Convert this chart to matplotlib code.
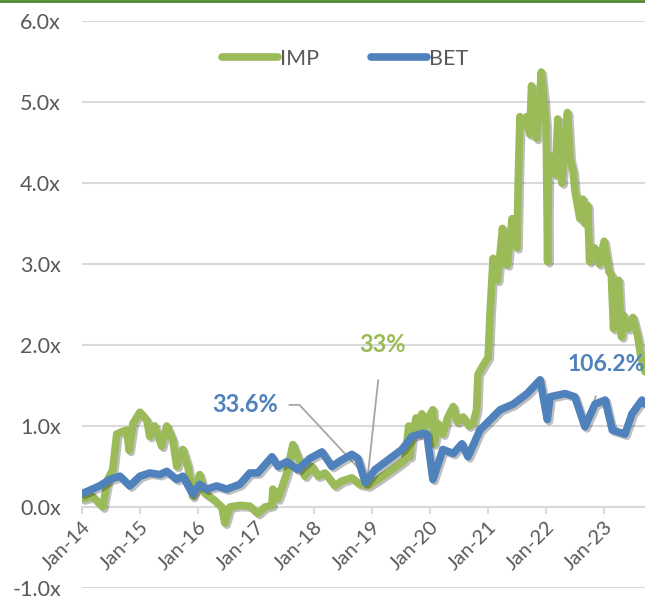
import numpy as np
import matplotlib
matplotlib.use("Agg")
import matplotlib.pyplot as plt
import matplotlib.dates as mdates
import matplotlib.patheffects as pe
from matplotlib.lines import Line2D

plt.rcParams['font.family'] = ['Lato', 'DejaVu Sans']

# IMP series (multiple, x)
imp_dates = ["2014-01-07", "2014-03-10", "2014-05-12", "2014-06-13", "2014-07-14", "2014-08-08",
             "2014-09-10", "2014-10-11", "2014-10-25", "2014-11-18", "2015-01-01", "2015-02-14",
             "2015-03-04", "2015-04-04", "2015-05-18", "2015-06-19", "2015-07-27", "2015-08-21",
             "2015-09-28", "2015-10-30", "2015-11-29", "2016-01-12", "2016-02-13", "2016-04-04",
             "2016-05-30", "2016-06-19", "2016-07-20", "2016-09-21", "2016-11-23", "2017-01-12",
             "2017-02-26", "2017-04-11", "2017-04-17", "2017-05-19", "2017-07-14", "2017-08-21",
             "2017-09-21", "2017-11-04", "2017-12-19", "2018-01-26", "2018-03-11", "2018-05-12",
             "2018-06-24", "2018-08-27", "2018-10-16", "2018-12-06", "2019-02-07", "2019-05-06",
             "2019-07-27", "2019-08-20", "2019-08-27", "2019-09-09", "2019-10-05", "2019-10-20",
             "2019-11-10", "2019-11-22", "2019-12-20", "2020-01-19", "2020-01-27", "2020-02-20",
             "2020-03-22", "2020-04-20", "2020-05-26", "2020-06-20", "2020-07-28", "2020-09-01",
             "2020-09-28", "2020-10-20", "2020-10-29", "2020-12-01", "2021-01-01", "2021-01-13",
             "2021-02-01", "2021-03-01", "2021-04-01", "2021-04-20", "2021-05-01", "2021-06-01",
             "2021-06-15", "2021-07-01", "2021-07-10", "2021-07-20", "2021-08-01", "2021-09-01",
             "2021-09-20", "2021-10-01", "2021-10-20", "2021-11-01", "2021-11-20", "2021-12-01",
             "2021-12-20", "2022-01-01", "2022-01-10", "2022-01-15", "2022-02-01", "2022-03-01",
             "2022-03-15", "2022-04-01", "2022-04-10", "2022-05-01", "2022-05-15", "2022-06-01",
             "2022-06-20", "2022-07-01", "2022-08-01", "2022-08-20", "2022-09-01", "2022-09-20",
             "2022-10-01", "2022-11-01", "2022-12-01", "2023-01-01", "2023-02-01", "2023-02-15",
             "2023-03-01", "2023-04-01", "2023-04-20", "2023-05-01", "2023-06-01", "2023-07-01",
             "2023-08-01", "2023-08-20", "2023-09-15"]
imp_values = [0.10, 0.13, 0.00, 0.34, 0.46, 0.90,
              0.93, 0.95, 0.70, 1.03, 1.17, 1.07,
              0.87, 1.00, 0.75, 1.00, 0.83, 0.50,
              0.71, 0.50, 0.13, 0.40, 0.17, 0.10,
              0.00, -0.20, 0.00, 0.02, 0.01, -0.08,
              0.00, 0.02, 0.22, 0.10, 0.42, 0.77,
              0.62, 0.38, 0.50, 0.38, 0.42, 0.26,
              0.32, 0.36, 0.28, 0.26, 0.34, 0.46,
              0.58, 1.00, 0.62, 0.85, 1.10, 0.90,
              1.15, 0.95, 1.10, 1.20, 0.78, 1.03,
              0.90, 1.10, 1.24, 1.05, 1.11, 1.00,
              1.03, 1.20, 1.64, 1.75, 1.85, 2.40,
              3.07, 2.80, 3.44, 3.00, 2.99, 3.56,
              3.30, 3.20, 4.10, 4.82, 4.70, 4.82,
              4.60, 5.20, 4.90, 4.55, 5.00, 5.37,
              5.00, 4.70, 3.03, 4.20, 4.33, 4.10,
              4.79, 4.30, 4.00, 4.50, 4.87, 4.30,
              4.14, 3.90, 3.56, 3.80, 3.50, 3.72,
              3.03, 3.20, 3.00, 3.28, 2.90, 2.87,
              2.20, 2.80, 2.10, 2.37, 2.20, 2.34,
              2.10, 1.85, 1.67]

# BET series (multiple, x)
bet_dates = ["2014-01-07", "2014-04-22", "2014-06-26", "2014-08-28", "2014-10-30", "2015-01-01",
             "2015-03-04", "2015-05-06", "2015-06-19", "2015-08-21", "2015-09-28", "2015-11-29",
             "2016-01-12", "2016-02-26", "2016-04-29", "2016-07-01", "2016-09-21", "2016-11-23",
             "2017-01-12", "2017-04-11", "2017-05-19", "2017-07-14", "2017-09-21", "2017-12-06",
             "2018-02-20", "2018-04-23", "2018-06-24", "2018-08-27", "2018-10-04", "2018-11-20",
             "2019-01-19", "2019-04-11", "2019-07-08", "2019-09-09", "2019-11-16", "2019-12-12",
             "2020-01-19", "2020-03-22", "2020-05-26", "2020-07-20", "2020-08-27", "2020-11-10",
             "2021-03-17", "2021-06-08", "2021-09-03", "2021-11-24", "2022-01-08", "2022-01-26",
             "2022-04-30", "2022-07-01", "2022-09-02", "2022-11-04", "2023-01-08", "2023-02-21",
             "2023-05-12", "2023-06-25", "2023-08-27", "2023-09-15"]
bet_values = [0.17, 0.26, 0.34, 0.38, 0.26, 0.38,
              0.42, 0.40, 0.44, 0.34, 0.38, 0.16,
              0.28, 0.22, 0.26, 0.22, 0.28, 0.42,
              0.42, 0.62, 0.50, 0.56, 0.46, 0.60,
              0.68, 0.50, 0.58, 0.65, 0.60, 0.30,
              0.46, 0.58, 0.71, 0.87, 0.91, 0.90,
              0.34, 0.71, 0.66, 0.78, 0.62, 0.95,
              1.20, 1.27, 1.40, 1.57, 1.08, 1.36,
              1.40, 1.36, 0.99, 1.27, 1.32, 0.95,
              0.90, 1.15, 1.32, 1.27]

y_ticks = [-1, 0, 1, 2, 3, 4, 5, 6]

green = "#9BBB59"
blue = "#4F81BD"
grey_txt = "#595959"

imp_x = np.array(imp_dates, dtype="datetime64[D]")
bet_x = np.array(bet_dates, dtype="datetime64[D]")

fig = plt.figure(figsize=(6.45, 6.0), dpi=100)
ax = fig.add_axes([0.127, 0.02, 0.873, 0.945])

shadow = [pe.SimpleLineShadow(offset=(1.5, -1.5), alpha=0.25, shadow_color="black"), pe.Normal()]
ax.plot(imp_x, imp_values, color=green, lw=5.5, solid_capstyle="round",
        solid_joinstyle="round", path_effects=shadow, zorder=3)
ax.plot(bet_x, bet_values, color=blue, lw=5.5, solid_capstyle="round",
        solid_joinstyle="round", path_effects=shadow, zorder=4)

ax.set_ylim(-1, 6)
ax.set_xlim(np.datetime64("2014-01-01"), np.datetime64("2023-09-15"))
ax.set_yticks(y_ticks)
ax.set_yticklabels([f"{v:.1f}x" for v in y_ticks])
ax.yaxis.grid(True, color="#D9D9D9", lw=1.5)
ax.set_axisbelow(True)

ax.xaxis.set_major_locator(mdates.YearLocator())
ax.xaxis.set_major_formatter(mdates.DateFormatter("%b-%y"))
ax.spines["bottom"].set_position(("data", 0))
ax.spines["bottom"].set_color("#D9D9D9")
ax.spines["bottom"].set_linewidth(1.5)
for s in ["left", "right", "top"]:
    ax.spines[s].set_visible(False)
ax.tick_params(axis="y", length=0, labelsize=15.5, labelcolor=grey_txt, pad=15)
ax.tick_params(axis="x", length=5, width=1.5, color="#D9D9D9", labelsize=14.5,
               labelcolor=grey_txt, pad=3)
for lab in ax.get_xticklabels():
    lab.set_rotation(45)
    lab.set_ha("right")
    lab.set_va("top")
    lab.set_rotation_mode("anchor")

# annotations
lead = dict(arrowstyle="-", color="#A6A6A6", lw=1.3, shrinkB=0)
ax.annotate("33.6%", xy=(np.datetime64("2018-11-24"), 0.38),
            xytext=(np.datetime64("2017-05-20"), 1.26),
            color=blue, fontsize=17, fontweight="bold", ha="right", va="center",
            arrowprops=dict(lead, shrinkA=6,
                            connectionstyle="angle,angleA=0,angleB=133,rad=0"))
ax.annotate("33%", xy=(np.datetime64("2018-12-06"), 0.4),
            xytext=(np.datetime64("2019-03-05"), 2.0),
            color=green, fontsize=17, fontweight="bold", ha="center", va="center",
            arrowprops=dict(lead, shrinkA=15))
ax.annotate("106.2%", xy=(np.datetime64("2022-09-20"), 1.07),
            xytext=(np.datetime64("2023-01-15"), 1.76),
            color=blue, fontsize=16.5, fontweight="bold", ha="center", va="center",
            arrowprops=dict(lead, shrinkA=14))

handles = [Line2D([], [], color=green, lw=5.5, solid_capstyle="round"),
           Line2D([], [], color=blue, lw=5.5, solid_capstyle="round")]
fig.legend(handles, ["IMP", "BET"], loc="center", bbox_to_anchor=(0.535, 0.902), ncol=2,
           frameon=False, fontsize=15.5, handlelength=2.6, handletextpad=0.1,
           columnspacing=2.4, labelcolor=grey_txt)

fig.add_artist(Line2D([0, 1], [0.998, 0.998], color="#4E8A2E", lw=2, transform=fig.transFigure))

fig.savefig("out.png", dpi=100)
